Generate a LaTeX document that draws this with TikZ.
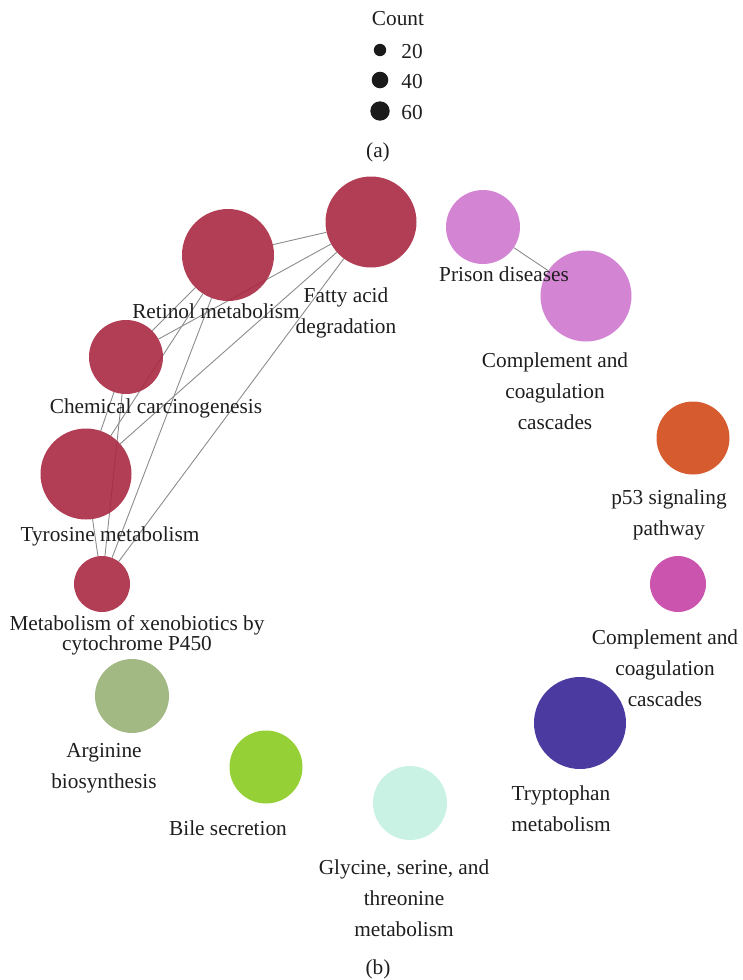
\documentclass[tikz,border=0pt]{standalone}
\usepackage{fontspec}
\setmainfont{Liberation Serif}
\usepackage{tikz}
\usetikzlibrary{backgrounds}

\definecolor{keggred}{RGB}{169,41,66}
\definecolor{orchidpink}{RGB}{206,119,206}
\definecolor{rustorange}{RGB}{209,74,25}
\definecolor{deepmagenta}{RGB}{197,66,165}
\definecolor{indigoblue}{RGB}{55,37,150}
\definecolor{sagegreen}{RGB}{153,177,118}
\definecolor{limegreen}{RGB}{138,203,32}
\definecolor{mintgreen}{RGB}{195,241,225}
\definecolor{legenddot}{RGB}{26,26,26}
\definecolor{edgegray}{RGB}{140,140,140}
\definecolor{labeltext}{RGB}{30,30,30}

\tikzset{
  pathway/.style={circle, fill opacity=0.9, inner sep=0pt},
  term/.style={align=center, text=labeltext, inner sep=0pt, yshift=-1.5pt},
  legdot/.style={circle, fill=legenddot, inner sep=0pt},
  link/.style={draw=edgegray, line width=0.9pt}
}

\begin{document}
\begin{tikzpicture}[x=1pt, y=-1pt, font=\fontsize{21.3}{31}\selectfont]
        \useasboundingbox (0,0) rectangle (742,980);

        % Legend for the node size
        \node[term] (count) at (398,17) {Count};
        \node[legdot, minimum size=12.4pt] (d20) at (380,50) {};
        \node[legdot, minimum size=16.6pt] (d40) at (380,80) {};
        \node[legdot, minimum size=19.4pt] (d60) at (380,111) {};
        \node[term] (t20) at (412,50) {20};
        \node[term] (t40) at (412,80) {40};
        \node[term] (t60) at (412,111) {60};
        \node[term] (capa) at (378,151) {(a)};

        % Define the vertices of the red cluster
        \node[pathway, fill=keggred, minimum size=92pt] (ret) at (228,255) {};
        \node[pathway, fill=keggred, minimum size=91pt] (fat) at (371,222) {};
        \node[pathway, fill=keggred, minimum size=74pt] (chem) at (126,357) {};
        \node[pathway, fill=keggred, minimum size=91pt] (tyr) at (86,474) {};
        \node[pathway, fill=keggred, minimum size=56pt] (xeno) at (102,584) {};

        % Define the vertices of the pink pair
        \node[pathway, fill=orchidpink, minimum size=74pt] (prion) at (483,227) {};
        \node[pathway, fill=orchidpink, minimum size=91pt] (compA) at (586,296) {};

        % Define the single vertices
        \node[pathway, fill=rustorange, minimum size=73pt] (p53) at (693,438) {};
        \node[pathway, fill=deepmagenta, minimum size=56pt] (compB) at (678,584) {};
        \node[pathway, fill=indigoblue, minimum size=92pt] (trp) at (580,723) {};
        \node[pathway, fill=mintgreen, minimum size=74pt] (gly) at (410,803) {};
        \node[pathway, fill=limegreen, minimum size=73pt] (bile) at (266,767) {};
        \node[pathway, fill=sagegreen, minimum size=74pt] (arg) at (132,696) {};

        % Define the edges (under the vertices)
        \begin{scope}[on background layer]
        \draw[link] (ret) -- (fat);
        \draw[link] (ret) -- (chem);
        \draw[link] (ret) -- (tyr);
        \draw[link] (ret) -- (xeno);
        \draw[link] (fat) -- (chem);
        \draw[link] (fat) -- (tyr);
        \draw[link] (fat) -- (xeno);
        \draw[link] (chem) -- (tyr);
        \draw[link] (chem) -- (xeno);
        \draw[link] (tyr) -- (xeno);
        \draw[link] (prion) -- (compA);
        \end{scope}

        % Annotations for the vertices
        \node[term] (retL) at (216,310) {Retinol metabolism};
        \node[term] (fatL) at (346,311) {Fatty acid\\degradation};
        \node[term] (chemL) at (156,407) {Chemical carcinogenesis};
        \node[term] (tyrL) at (110,535) {Tyrosine metabolism};
        \node[term, font=\fontsize{21.3}{20}\selectfont] (xenoL) at (137,634) {Metabolism of xenobiotics by\\cytochrome P450};
        \node[term] (prionL) at (504,273) {Prison diseases};
        \node[term] (compAL) at (555,390) {Complement and\\coagulation\\cascades};
        \node[term] (p53L) at (669,513) {p53 signaling\\pathway};
        \node[term] (compBL) at (665,667) {Complement and\\coagulation\\cascades};
        \node[term] (trpL) at (561,807) {Tryptophan\\metabolism};
        \node[term] (glyL) at (404,897) {Glycine, serine, and\\threonine\\metabolism};
        \node[term] (bileL) at (228,827) {Bile secretion};
        \node[term] (argL) at (104,767) {Arginine\\biosynthesis};
        \node[term] (capb) at (378,968) {(b)};

\end{tikzpicture}
\end{document}
